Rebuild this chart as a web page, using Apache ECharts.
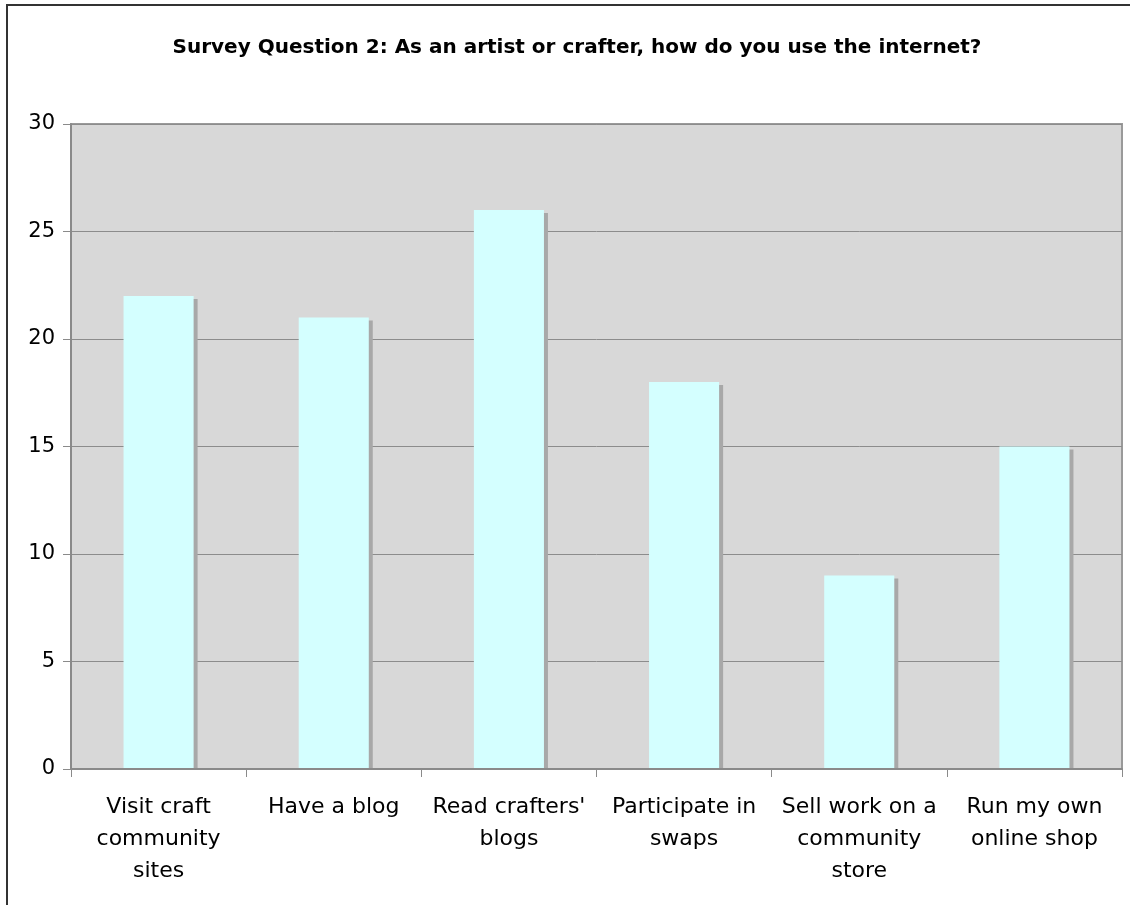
<!DOCTYPE html>
<html>
<head>
<meta charset="utf-8">
<style>
  html, body { margin: 0; padding: 0; background: #fff; }
  #chart { width: 1130px; height: 905px; }
</style>
<script src="https://cdn.jsdelivr.net/npm/echarts@6/dist/echarts.min.js"></script>
</head>
<body>
<div id="chart"></div>
<script>
// Survey answers: how artists and crafters use the internet
const categories = [
  "Visit craft\ncommunity\nsites",
  "Have a blog",
  "Read crafters'\nblogs",
  "Participate in\nswaps",
  "Sell work on a\ncommunity\nstore",
  "Run my own\nonline shop"
];
const responses = [22, 21, 26, 18, 9, 15];
const yTicks = { min: 0, max: 30, interval: 5 };
const chartTitle = "Survey Question 2: As an artist or crafter, how do you use the internet?";

const font = "DejaVu Sans";
const chart = echarts.init(document.getElementById("chart"), null, { renderer: "canvas" });

chart.setOption({
  animation: false,
  backgroundColor: "#ffffff",
  title: {
    text: chartTitle,
    left: 572,
    textAlign: "center",
    top: 33,
    textStyle: { fontFamily: font, fontWeight: "bold", fontSize: 20, color: "#000" }
  },
  graphic: [
    {
      // outer frame
      type: "rect",
      shape: { x: 7, y: 5, width: 1140, height: 1000 },
      style: { fill: "none", stroke: "#333", lineWidth: 2 },
      silent: true,
      z: 10
    },
    {
      // keeps bar shadows from spilling below the baseline
      type: "rect",
      shape: { x: 72, y: 770, width: 1060, height: 6 },
      style: { fill: "#ffffff" },
      silent: true,
      z: 3
    }
  ],
  grid: {
    left: 71, right: 8, top: 124, bottom: 136,
    show: true,
    backgroundColor: "#d8d8d8",
    borderColor: "#9a9a9a",
    borderWidth: 2
  },
  xAxis: {
    type: "category",
    data: categories,
    z: 5,
    axisLine: { show: true, lineStyle: { color: "#8a8a8a", width: 2 } },
    axisTick: { show: true, alignWithLabel: false, length: 8, lineStyle: { color: "#8a8a8a", width: 1 } },
    axisLabel: {
      interval: 0,
      margin: 22,
      fontFamily: font,
      fontSize: 22,
      lineHeight: 32,
      color: "#000"
    },
    splitLine: { show: false }
  },
  yAxis: {
    type: "value",
    min: yTicks.min,
    max: yTicks.max,
    interval: yTicks.interval,
    axisLine: { show: true, lineStyle: { color: "#8a8a8a", width: 2 } },
    axisTick: { show: true, length: 8, lineStyle: { color: "#8a8a8a", width: 1 } },
    axisLabel: { margin: 16, fontFamily: font, fontSize: 21, color: "#000" },
    splitLine: { show: true, lineStyle: { color: "#8c8c8c", width: 1 } }
  },
  series: [{
    type: "bar",
    data: responses,
    barWidth: "40%",
    itemStyle: {
      color: "#d4ffff",
      shadowColor: "#a8a8a8",
      shadowBlur: 0,
      shadowOffsetX: 4,
      shadowOffsetY: 3
    }
  }]
});
</script>
</body>
</html>
